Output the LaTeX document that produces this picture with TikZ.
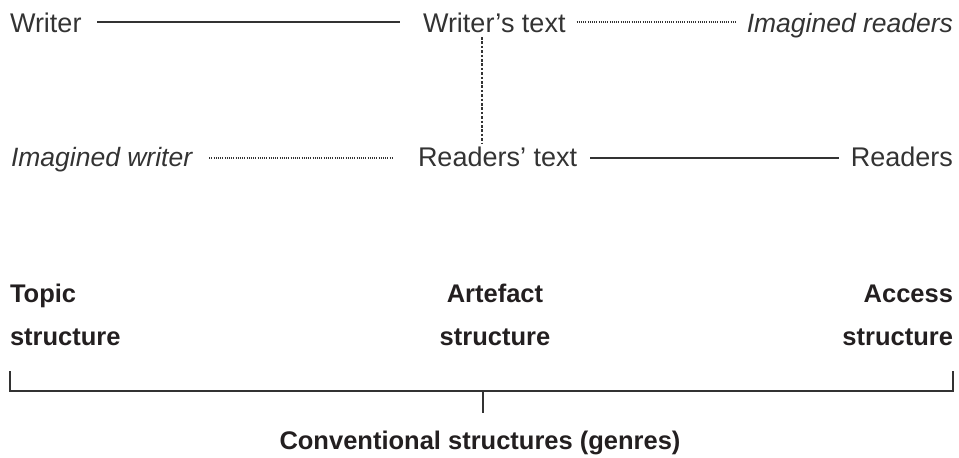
\documentclass[tikz,border=0pt]{standalone}
\usepackage{fontspec}
\setmainfont{Liberation Sans}
\usetikzlibrary{calc}
\definecolor{ink}{HTML}{333333}
\definecolor{boldink}{HTML}{231F20}
\tikzset{
  lbl/.style={inner sep=0pt, outer sep=0pt, text=ink, font=\fontsize{27}{31}\selectfont},
  ilbl/.style={lbl, font=\fontsize{26.5}{31}\selectfont\itshape},
  blbl/.style={inner sep=0pt, outer sep=0pt, text=boldink, font=\fontsize{25.5}{30}\selectfont\bfseries},
  solidline/.style={draw=ink, line width=1.3pt},
  dotline/.style={draw=ink, line width=1.1pt, dash pattern=on 1pt off 1.2pt},
  dashline/.style={draw=ink, line width=1.1pt, dash pattern=on 2.6pt off 1.8pt},
  bracket/.style={draw=ink, line width=2pt}
}
\begin{document}
\begin{tikzpicture}[x=1pt,y=1pt]
\useasboundingbox (0,0) rectangle (959,-458);
% row 1
\node[lbl, anchor=base west] (w) at (10,-32) {Writer};
\node[lbl, anchor=base west] (wt) at (423,-32) {Writer’s text};
\node[ilbl, anchor=base east] (ir) at (953,-32) {Imagined readers};
% row 2
\node[ilbl, anchor=base west] (iw) at (11,-166) {Imagined writer};
\node[lbl, anchor=base west] (rt) at (418,-166) {Readers’ text};
\node[lbl, anchor=base east] (r) at (953,-166) {Readers};
% connectors row 1
\draw[solidline] ($(w.base east)+(16,10)$) -- ($(wt.base west)+(-23,10)$);
\draw[dotline] ($(wt.base east)+(11,10)$) -- ($(ir.base west)+(-11,10)$);
% connectors row 2
\draw[dotline] ($(iw.base east)+(17,8)$) -- ($(rt.base west)+(-25,8)$);
\draw[solidline] ($(rt.base east)+(13,8)$) -- ($(r.base west)+(-12,8)$);
% vertical dashed
\coordinate (vtop) at (482,-37);
\coordinate (vbot) at (482,-143);
\draw[dashline] (vtop) -- (vbot);
% bold labels
\node[blbl, anchor=base west] (t1) at (10,-302) {Topic};
\node[blbl, anchor=base west] (t2) at (10,-345) {structure};
\node[blbl, anchor=base] (a1) at (495,-302) {Artefact};
\node[blbl, anchor=base] (a2) at (495,-345) {structure};
\node[blbl, anchor=base east] (c1) at (953,-302) {Access};
\node[blbl, anchor=base east] (c2) at (953,-345) {structure};
% bracket
\coordinate (bl) at (10,-371);
\coordinate (br) at (953,-371);
\coordinate (bm) at (483,-391);
\coordinate (bt) at (483,-413);
\draw[bracket] (bl) |- (bm) -| (br);
\draw[bracket] (bm) -- (bt);
\node[blbl, anchor=base] (conv) at (480,-449) {Conventional structures (genres)};
\end{tikzpicture}
\end{document}
